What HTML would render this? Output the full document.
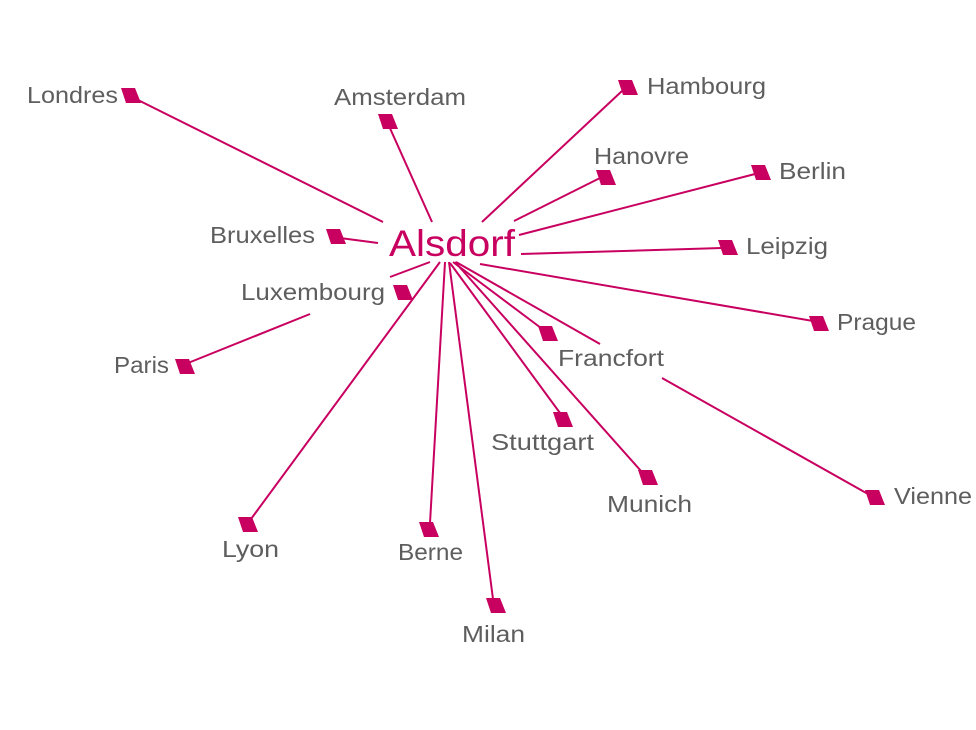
<!DOCTYPE html>
<html><head><meta charset="utf-8"><style>
html,body{margin:0;padding:0;background:#fff}
svg{display:block}
text{font-family:"Liberation Sans",sans-serif;font-size:23px;fill:#5e5e5e}
</style></head><body>
<svg width="976" height="730" viewBox="0 0 976 730">
<g stroke="#c8005f" stroke-width="2" fill="none">
<line x1="136" y1="99" x2="383" y2="222"/>
<line x1="389" y1="126" x2="432" y2="222"/>
<line x1="622" y1="91" x2="482" y2="222"/>
<line x1="600" y1="178" x2="514" y2="221"/>
<line x1="755" y1="174" x2="519" y2="235"/>
<line x1="722" y1="248" x2="521" y2="254"/>
<line x1="340" y1="238" x2="378" y2="243"/>
<line x1="430" y1="262" x2="390" y2="277"/>
<line x1="188" y1="363" x2="310" y2="314"/>
<line x1="813" y1="321" x2="480" y2="264"/>
<line x1="600" y1="344" x2="456" y2="262"/>
<line x1="541" y1="328" x2="453" y2="262"/>
<line x1="662" y1="378" x2="868" y2="494"/>
<line x1="560" y1="413" x2="450" y2="263"/>
<line x1="641" y1="471" x2="455" y2="262"/>
<line x1="251" y1="519" x2="440" y2="262"/>
<line x1="430" y1="523" x2="445" y2="262"/>
<line x1="493" y1="599" x2="449" y2="262"/>
</g>
<g fill="#c8005f">
<polygon points="121,88 135,88 141,103 126,103"/>
<polygon points="378,114 392,114 398,129 383,129"/>
<polygon points="618,80 632,80 638,95 623,95"/>
<polygon points="596,170 610,170 616,185 601,185"/>
<polygon points="751,165 765,165 771,180 756,180"/>
<polygon points="718,240 732,240 738,255 723,255"/>
<polygon points="326,229 340,229 346,244 331,244"/>
<polygon points="393,285 407,285 413,300 398,300"/>
<polygon points="175,359 189,359 195,374 180,374"/>
<polygon points="809,316 823,316 829,331 814,331"/>
<polygon points="538,326 552,326 558,341 543,341"/>
<polygon points="865,490 879,490 885,505 870,505"/>
<polygon points="553,412 567,412 573,427 558,427"/>
<polygon points="638,470 652,470 658,485 643,485"/>
<polygon points="238,517 252,517 258,532 243,532"/>
<polygon points="419,522 433,522 439,537 424,537"/>
<polygon points="486,598 500,598 506,613 491,613"/>
</g>
<text x="27" y="103" textLength="91" lengthAdjust="spacingAndGlyphs">Londres</text>
<text x="334" y="105" textLength="132" lengthAdjust="spacingAndGlyphs">Amsterdam</text>
<text x="647" y="94" textLength="119" lengthAdjust="spacingAndGlyphs">Hambourg</text>
<text x="594" y="164" textLength="95" lengthAdjust="spacingAndGlyphs">Hanovre</text>
<text x="779" y="179" textLength="67" lengthAdjust="spacingAndGlyphs">Berlin</text>
<text x="746" y="254" textLength="82" lengthAdjust="spacingAndGlyphs">Leipzig</text>
<text x="210" y="243" textLength="105" lengthAdjust="spacingAndGlyphs">Bruxelles</text>
<text x="241" y="300" textLength="144" lengthAdjust="spacingAndGlyphs">Luxembourg</text>
<text x="114" y="373" textLength="55" lengthAdjust="spacingAndGlyphs">Paris</text>
<text x="837" y="330" textLength="79" lengthAdjust="spacingAndGlyphs">Prague</text>
<text x="558" y="366" textLength="106" lengthAdjust="spacingAndGlyphs">Francfort</text>
<text x="894" y="504" textLength="78" lengthAdjust="spacingAndGlyphs">Vienne</text>
<text x="491" y="450" textLength="103" lengthAdjust="spacingAndGlyphs">Stuttgart</text>
<text x="607" y="512" textLength="85" lengthAdjust="spacingAndGlyphs">Munich</text>
<text x="222" y="557" textLength="57" lengthAdjust="spacingAndGlyphs">Lyon</text>
<text x="398" y="560" textLength="65" lengthAdjust="spacingAndGlyphs">Berne</text>
<text x="462" y="642" textLength="63" lengthAdjust="spacingAndGlyphs">Milan</text>
<text x="389" y="256" textLength="126" lengthAdjust="spacingAndGlyphs" style="font-size:37px;fill:#c8005f">Alsdorf</text>
</svg>
</body></html>
